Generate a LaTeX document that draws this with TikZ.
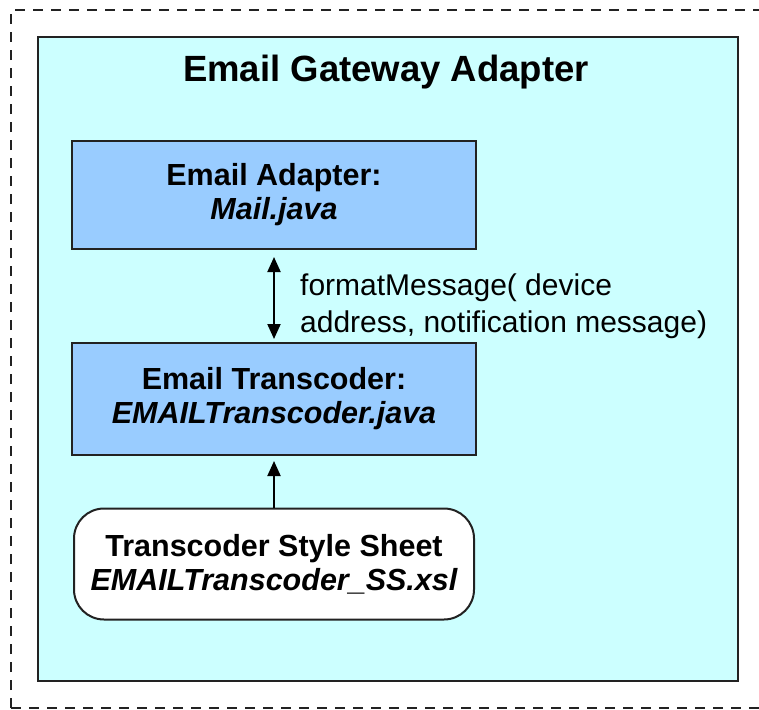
\documentclass[tikz,border=0pt]{standalone}
\usepackage{fontspec}
\setmainfont{Liberation Sans}
\usepackage{tikz}
\usetikzlibrary{arrows.meta}
\usetikzlibrary{positioning}
\usepackage{xcolor}
\definecolor{Cyan1}{HTML}{CCFFFF}
\definecolor{Bleu1}{HTML}{99CCFF}
\definecolor{Trait}{HTML}{222222}

\begin{document}
\begin{tikzpicture}[x=1pt,y=-1pt,
  gateway/.style={draw=Trait,fill=Cyan1,line width=2.5pt},
  classbox/.style={draw=Trait,fill=Bleu1,line width=2pt,align=center,
    font=\fontsize{30.5}{34}\selectfont\bfseries},
  sheetbox/.style={draw=Trait,fill=white,line width=2pt,rounded corners=30pt,
    align=center,font=\fontsize{30.5}{34}\selectfont\bfseries},
  call/.style={line width=2pt,draw=black,shorten <=7pt,shorten >=3pt,
    {Triangle[length=15pt,width=13pt]}-{Triangle[length=15pt,width=13pt]}},
  feed/.style={line width=2pt,draw=black,shorten >=5pt,-{Triangle[length=15pt,width=13pt]}}]
\clip (0,0) rectangle (759,709);
% Cadre pointille
\draw[Trait,line width=2pt,dash pattern=on 10pt off 8pt] (11,708) -- (11,10) -- (790,10);
\draw[Trait,line width=2pt,dash pattern=on 10pt off 8pt] (11,708) -- (790,708);

% Adaptateur
\node[gateway,minimum width=700pt,minimum height=644pt] (gateway) at (388,359) {};
\node[font=\fontsize{36.5}{40}\selectfont\bfseries] (titre) at (386,72) {Email Gateway Adapter};

% Classes
\node[classbox,minimum width=404pt,minimum height=108pt] (adapter) at (274,195)
  {Email Adapter:\\ \itshape Mail.java};
\node[classbox,minimum width=404pt,minimum height=112pt] (transcoder) at (274,399)
  {Email Transcoder:\\ \itshape EMAILTranscoder.java};
\node[sheetbox,minimum width=400pt,minimum height=111pt] (sheet) at (274,564)
  {Transcoder Style Sheet\\ \itshape EMAILTranscoder\_SS.xsl};

% Appels
\draw[call] (adapter) -- (transcoder);
\draw[feed] (sheet) -- (transcoder);
\node[anchor=north west,align=left,inner sep=0pt,
  font=\fontsize{30}{37}\selectfont] (msg) at (300,274)
  {formatMessage( device\\address, notification message)};
\end{tikzpicture}
\end{document}
